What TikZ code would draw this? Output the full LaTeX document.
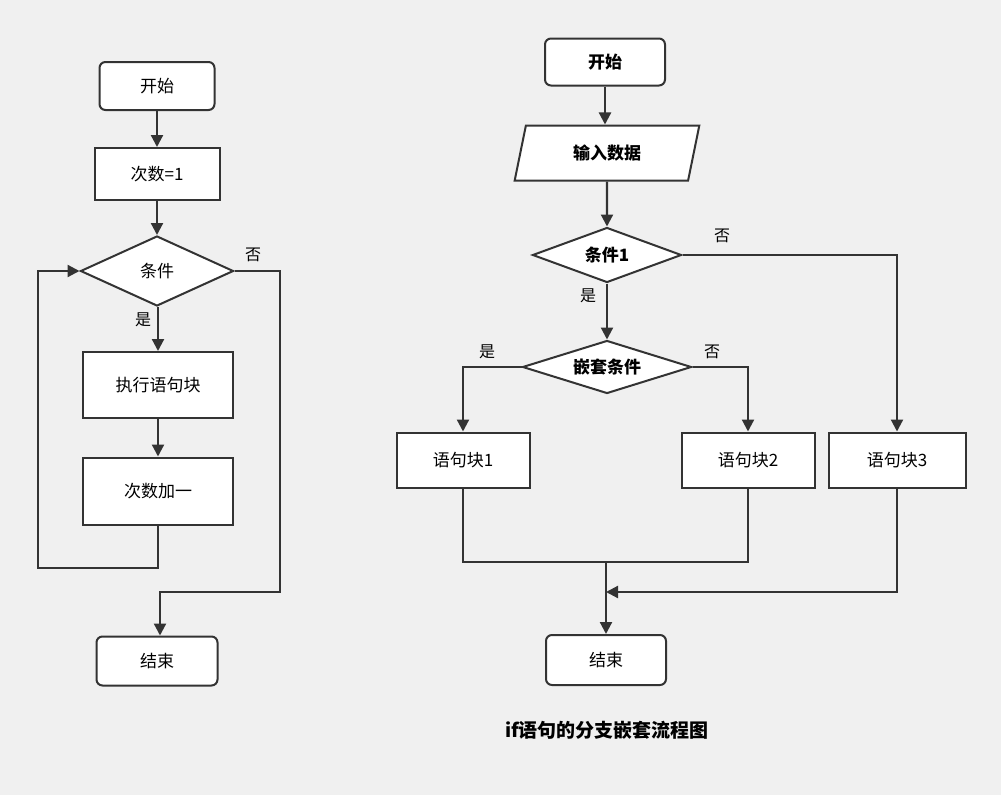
\documentclass[tikz,border=0pt]{standalone}
\usepackage{fontspec}
\setmainfont{Noto Sans CJK SC}
\usetikzlibrary{shapes.geometric,arrows.meta}
\definecolor{bg}{HTML}{F0F0F0}
\definecolor{ln}{HTML}{333333}
\begin{document}
\begin{tikzpicture}[x=1pt,y=-1pt,
  base/.style={draw=ln,line width=2pt,fill=white,font=\fontsize{17}{20}\selectfont,inner sep=0pt},
  box/.style={base,rectangle,minimum width=#1},
  rbox/.style={base,rectangle,rounded corners=6pt,minimum width=#1,minimum height=48pt},
  para/.style={base,trapezium,trapezium left angle=74,trapezium right angle=106,trapezium stretches=true,minimum width=#1,minimum height=55pt},
  bld/.style={font=\fontsize{17}{20}\selectfont\bfseries},
  lab/.style={font=\fontsize{16}{18}\selectfont},
  con/.style={draw=ln,line width=2.2pt},
  arr/.style={con,-{Triangle[length=12pt,width=12pt]}}]
\fill[bg] (0,0) rectangle (1001,795);
\useasboundingbox (0,0) rectangle (1001,795);
% left
\node[rbox=115pt] (s1) at (157,86) {开始};
\node[box=125pt,minimum height=52pt] (c1) at (157,174) {次数=1};
\node[base,diamond,minimum width=153pt,minimum height=70pt,aspect=2.2] (d1) at (157,271) {条件};
\node[box=150pt,minimum height=66pt] (e1) at (158,385) {执行语句块};
\node[box=150pt,minimum height=67pt] (e2) at (158,491) {次数加一};
\node[rbox=121pt,minimum height=49pt] (t1) at (157,661) {结束};
\coordinate (l1) at (158,568); \coordinate (l2) at (38,568); \coordinate (l3) at (38,271);
\coordinate (n1) at (280,271); \coordinate (n2) at (280,592); \coordinate (n3) at (160,592);
\draw[arr] (s1) -- (c1);
\draw[arr] (c1) -- (d1);
\draw[arr] (d1.south -| e1) -- (e1);
\draw[arr] (e1) -- (e2);
\draw[arr] (e2.south) -- (l1) -- (l2) -- (l3) -- (d1.west);
\draw[arr] (d1.east) -- (n1) -- (n2) -- (n3) -- (t1.north -| n3);
\node[lab] (ln1) at (253,255) {否};
\node[lab] (ly1) at (143,320) {是};
% right
\node[rbox=120pt,minimum height=47pt,bld] (s2) at (605,62) {开始};
\node[para=185pt,bld] (i2) at (607,153) {输入数据};
\node[base,diamond,minimum width=149pt,minimum height=55pt,aspect=2.7,bld] (d2) at (607,255) {条件1};
\node[base,diamond,minimum width=169pt,minimum height=53pt,aspect=3.2,bld] (d3) at (607,367) {嵌套条件};
\node[box=133pt,minimum height=55pt] (b1) at (463,460) {语句块1};
\node[box=133pt,minimum height=55pt] (b2) at (748,460) {语句块2};
\node[box=137pt,minimum height=55pt] (b3) at (897,460) {语句块3};
\node[rbox=120pt,minimum height=50pt] (t2) at (606,660) {结束};
\draw[arr] (s2) -- (s2.south |- i2.north);
\draw[arr] (i2) -- (d2);
\draw[arr] (d2) -- (d3);
\draw[arr] (d2.east) -| (b3.north);
\draw[arr] (d3.west) -| (b1.north);
\draw[arr] (d3.east) -| (b2.north);
\coordinate (m1) at (463,562); \coordinate (m2) at (748,562); \coordinate (m0) at (606,562);
\coordinate (m3) at (897,592); \coordinate (m4) at (606,592);
\draw[con] (b1.south) -- (m1) -- (m2) -- (b2.south);
\draw[arr] (m0) -- (t2.north);
\draw[arr] (b3.south) -- (m3) -- (m4);
\node[lab] (ln2) at (722,236) {否};
\node[lab] (ly2) at (588,296) {是};
\node[lab] (ly3) at (487,352) {是};
\node[lab] (ln3) at (712,352) {否};
\node[bld,font=\fontsize{19}{22}\selectfont\bfseries] (cap) at (607,730) {if语句的分支嵌套流程图};
\end{tikzpicture}
\end{document}
